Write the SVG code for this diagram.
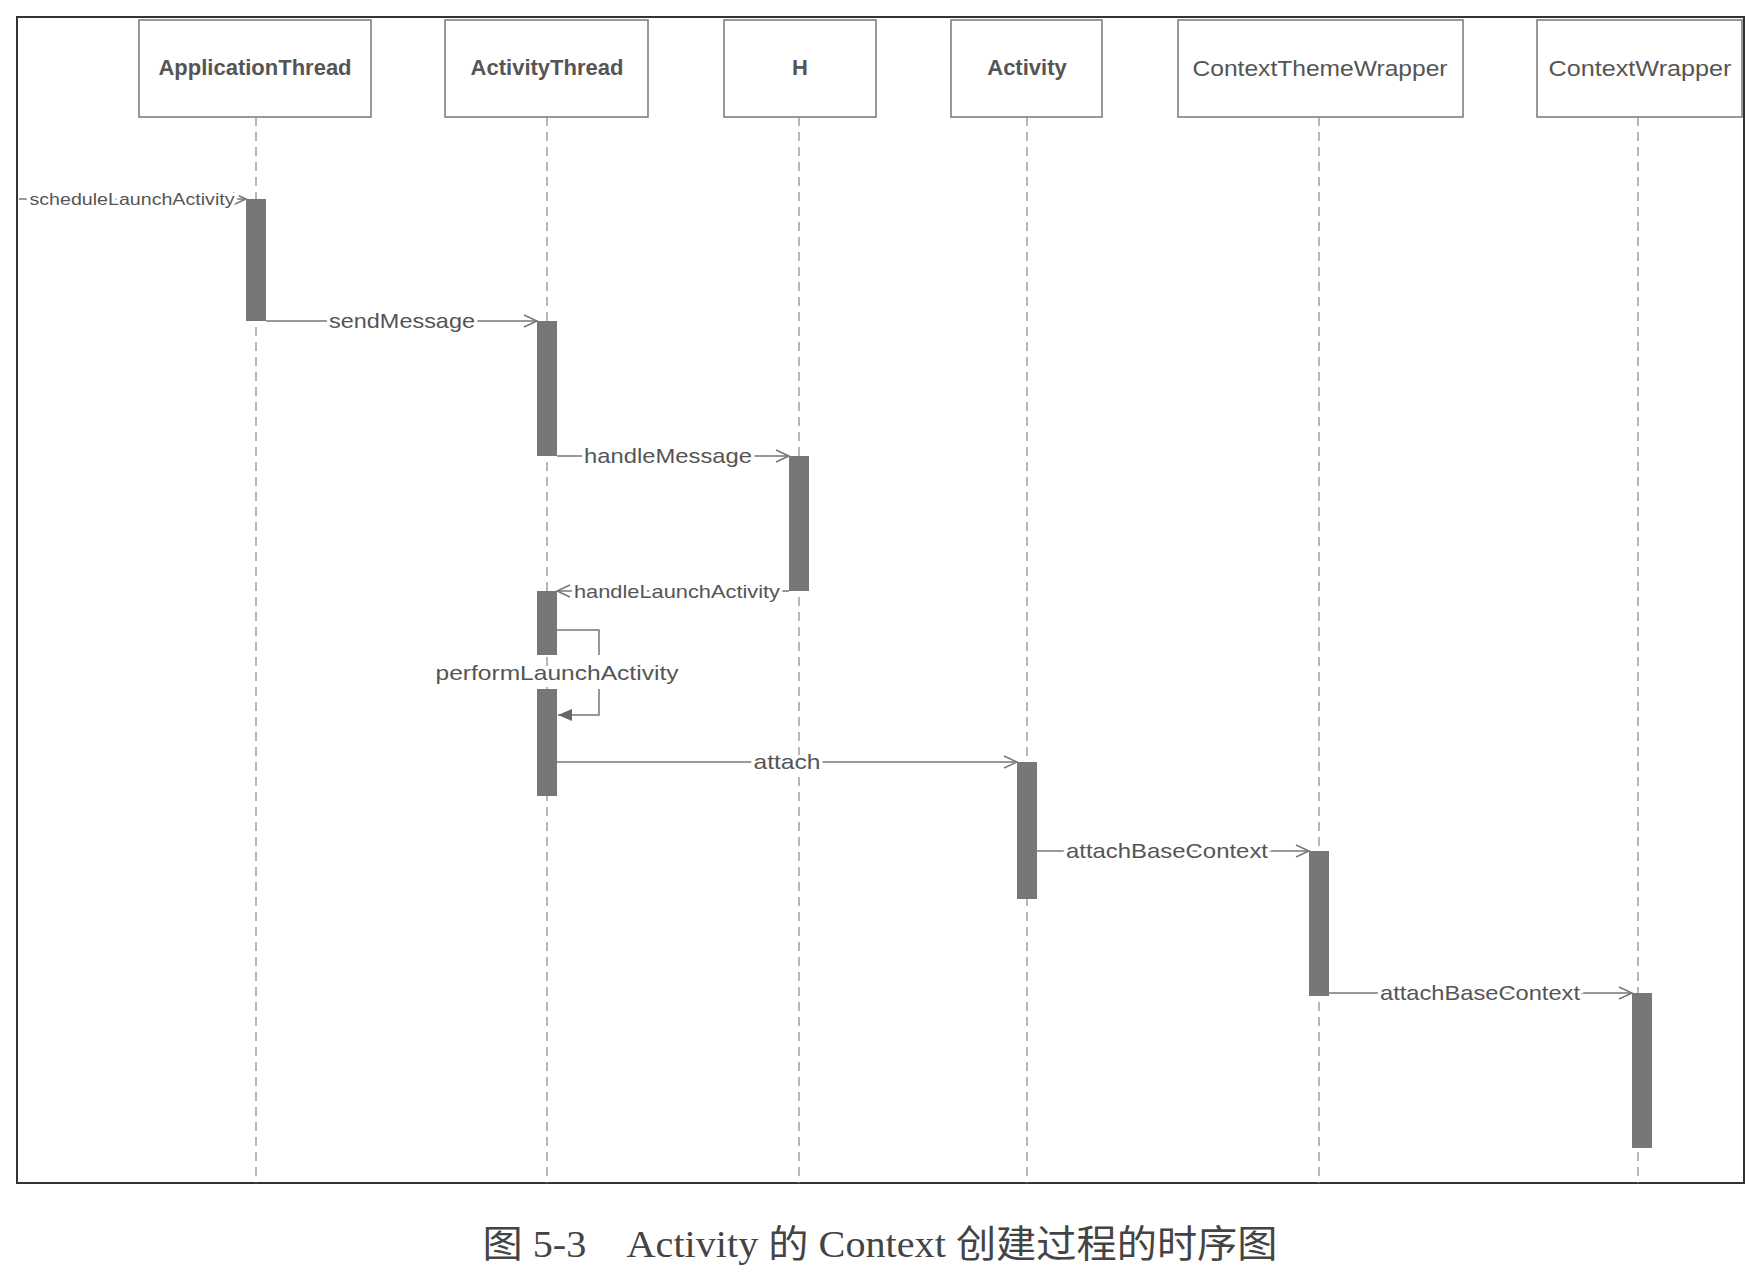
<svg xmlns="http://www.w3.org/2000/svg" width="1762" height="1274" viewBox="0 0 1762 1274">
<defs>
<style>
.box{fill:#fff;stroke:#777;stroke-width:1.5}
.name{font-family:"Liberation Sans",Arial,sans-serif;font-size:22px;font-weight:bold;fill:#555;text-anchor:middle}
.life{stroke:#888;stroke-width:1.2;stroke-dasharray:9 6;fill:none}
.bar{fill:#777}
.msg{stroke:#777;stroke-width:1.5;fill:none}
.lbl{font-family:"Liberation Sans",Arial,sans-serif;font-size:21px;fill:#555;text-anchor:middle;paint-order:stroke;stroke:#fff;stroke-width:6px}
.cap{font-family:"Liberation Serif","Noto Sans CJK SC",serif;font-size:38px;fill:#444;text-anchor:middle}
</style>
<marker id="open" markerWidth="16" markerHeight="14" refX="14" refY="7" orient="auto" markerUnits="userSpaceOnUse">
<path d="M1,1 L14,7 L1,13" fill="none" stroke="#777" stroke-width="1.5"/>
</marker>
<marker id="solid" markerWidth="16" markerHeight="14" refX="14" refY="7" orient="auto" markerUnits="userSpaceOnUse">
<path d="M0,1 L14,7 L0,13 Z" fill="#666"/>
</marker>
</defs>
<rect x="0" y="0" width="1762" height="1274" fill="#fff"/>
<rect x="17" y="17" width="1727" height="1166" fill="none" stroke="#333" stroke-width="2"/>

<g id="ApplicationThread">
<rect class="box" x="139" y="20" width="232" height="97"/>
<text class="name" x="255" y="75">ApplicationThread</text>
<line class="life" x1="256" y1="117" x2="256" y2="1183"/>
</g>
<g id="ActivityThread">
<rect class="box" x="445" y="20" width="203" height="97"/>
<text class="name" x="547" y="75">ActivityThread</text>
<line class="life" x1="547" y1="117" x2="547" y2="1183"/>
</g>
<g id="H">
<rect class="box" x="724" y="20" width="152" height="97"/>
<text class="name" x="800" y="75">H</text>
<line class="life" x1="799" y1="117" x2="799" y2="1183"/>
</g>
<g id="Activity">
<rect class="box" x="951" y="20" width="151" height="97"/>
<text class="name" x="1027" y="75">Activity</text>
<line class="life" x1="1027" y1="117" x2="1027" y2="1183"/>
</g>
<g id="ContextThemeWrapper">
<rect class="box" x="1178" y="20" width="285" height="97"/>
<text class="name" x="1320" y="76" style="font-weight:normal" textLength="255" lengthAdjust="spacingAndGlyphs">ContextThemeWrapper</text>
<line class="life" x1="1319" y1="117" x2="1319" y2="1183"/>
</g>
<g id="ContextWrapper">
<rect class="box" x="1537" y="20" width="205" height="97"/>
<text class="name" x="1640" y="76" style="font-weight:normal" textLength="183" lengthAdjust="spacingAndGlyphs">ContextWrapper</text>
<line class="life" x1="1638" y1="117" x2="1638" y2="1183"/>
</g>

<g id="activations">
<rect class="bar" x="246" y="199" width="20" height="122"/>
<rect class="bar" x="537" y="321" width="20" height="135"/>
<rect class="bar" x="789" y="456" width="20" height="135"/>
<rect class="bar" x="537" y="591" width="20" height="64"/>
<rect class="bar" x="537" y="689" width="20" height="107"/>
<rect class="bar" x="1017" y="762" width="20" height="137"/>
<rect class="bar" x="1309" y="851" width="20" height="145"/>
<rect class="bar" x="1632" y="993" width="20" height="155"/>
</g>

<g id="connectors">
<line class="msg" x1="19" y1="199" x2="246" y2="199" marker-end="url(#open)"/>
<text class="lbl" x="132" y="205" style="font-size:16px" textLength="205" lengthAdjust="spacingAndGlyphs">scheduleLaunchActivity</text>

<line class="msg" x1="266" y1="321" x2="537" y2="321" marker-end="url(#open)"/>
<text class="lbl" x="402" y="328" textLength="146" lengthAdjust="spacingAndGlyphs">sendMessage</text>

<line class="msg" x1="557" y1="456" x2="789" y2="456" marker-end="url(#open)"/>
<text class="lbl" x="668" y="463" textLength="168" lengthAdjust="spacingAndGlyphs">handleMessage</text>

<line class="msg" x1="789" y1="591" x2="557" y2="591" marker-end="url(#open)"/>
<text class="lbl" x="677" y="598" style="font-size:19px" textLength="206" lengthAdjust="spacingAndGlyphs">handleLaunchActivity</text>

<path class="msg" d="M557,630 H599 V655"/>
<path class="msg" d="M599,689 V715 H558" marker-end="url(#solid)"/>
<text class="lbl" x="557" y="680" textLength="243" lengthAdjust="spacingAndGlyphs">performLaunchActivity</text>

<line class="msg" x1="557" y1="762" x2="1017" y2="762" marker-end="url(#open)"/>
<text class="lbl" x="787" y="769" textLength="67" lengthAdjust="spacingAndGlyphs">attach</text>

<line class="msg" x1="1037" y1="851" x2="1309" y2="851" marker-end="url(#open)"/>
<text class="lbl" x="1167" y="858" textLength="202" lengthAdjust="spacingAndGlyphs">attachBaseContext</text>

<line class="msg" x1="1329" y1="993" x2="1632" y2="993" marker-end="url(#open)"/>
<text class="lbl" x="1480" y="1000" textLength="200" lengthAdjust="spacingAndGlyphs">attachBaseContext</text>
</g>

<text class="cap" x="880" y="1257" textLength="795" lengthAdjust="spacingAndGlyphs">图 5-3　Activity 的 Context 创建过程的时序图</text>
</svg>
